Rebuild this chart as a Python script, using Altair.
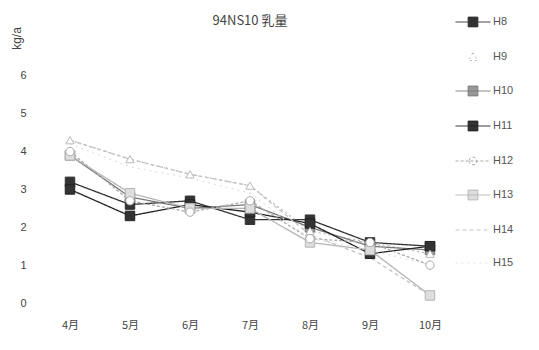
import altair as alt
import pandas as pd

months = ["4月", "5月", "6月", "7月", "8月", "9月", "10月"]
series = ["H8", "H9", "H10", "H11", "H12", "H13", "H14", "H15"]
H8 = [3.2, 2.6, 2.7, 2.2, 2.2, 1.6, 1.5]
H9 = [4.3, 3.8, 3.4, 3.1, 1.9, 1.6, 1.3]
H10 = [3.9, 2.8, 2.5, 2.6, 2.0, 1.5, 1.4]
H11 = [3.0, 2.3, 2.6, 2.4, 2.1, 1.3, 1.5]
H12 = [4.0, 2.7, 2.4, 2.7, 1.7, 1.6, 1.0]
H13 = [3.9, 2.9, 2.5, 2.5, 1.6, 1.4, 0.2]
H14 = [4.3, 3.8, 3.4, 3.1, 1.8, 1.2, 0.2]
H15 = [4.2, 3.6, 3.3, 2.9, 1.7, 1.4, 1.0]
values = [H8, H9, H10, H11, H12, H13, H14, H15]

rows = []
for s, vals in zip(series, values):
    for m, v in zip(months, vals):
        rows.append({"series": s, "month": m, "value": v})
df = pd.DataFrame(rows)
legend_df = pd.DataFrame({"series": series})

stroke_colors = ["#333333", "#bbbbbb", "#777777", "#222222", "#aaaaaa", "#b5b5b5", "#c4c4c4", "#e2e2e2"]
fill_colors = ["#333333", "#ffffff", "#999999", "#333333", "#ffffff", "#dddddd", "#ffffff", "#ffffff"]
dashes = [[1, 0], [2, 3], [1, 0], [1, 0], [3, 2], [1, 0], [4, 3], [2, 4]]

stroke_scale = alt.Scale(domain=series, range=stroke_colors)
fill_scale = alt.Scale(domain=series, range=fill_colors)
dash_scale = alt.Scale(domain=series, range=dashes)

sq = "M-0.28,-0.28H0.28V0.28H-0.28Z"
ln = "M-1,0H1"
tri = "M0,-0.26L0.26,0.2H-0.26Z"
circ = "M-0.22,0A0.22,0.22 0 1,0 0.22,0A0.22,0.22 0 1,0 -0.22,0"
legend_shapes = [ln + sq, tri, ln + sq, ln + sq, ln + circ, ln + sq, ln, ln]

leg = alt.Legend(title=None, orient="none", legendX=415, legendY=-34, symbolSize=1225,
                 symbolStrokeWidth=1, labelFontSize=11, labelColor="#555555", rowPadding=10,
                 labelOffset=2, symbolOpacity=1)

x = alt.X("month:O", sort=months, title=None,
          axis=alt.Axis(labelAngle=0, domain=False, ticks=False, labelPadding=16,
                        labelFontSize=11, labelColor="#444444", labelFont="Noto Sans CJK JP"))
y = alt.Y("value:Q", scale=alt.Scale(domain=[0, 7]), title="kg/a",
          axis=alt.Axis(values=[0, 1, 2, 3, 4, 5, 6], grid=False, domain=False, ticks=False,
                        labelPadding=14, labelFontSize=11, labelColor="#444444",
                        titleAngle=-90, titleX=-24, titleY=0, titleAlign="center",
                        titleBaseline="middle", titleFontSize=12, titleFontWeight="normal",
                        titleColor="#444444"))

lines = alt.Chart(df).mark_line(strokeWidth=1.3).encode(
    x=x, y=y,
    stroke=alt.Stroke("series:N", scale=stroke_scale, legend=leg, sort=series),
    strokeDash=alt.StrokeDash("series:N", scale=dash_scale, legend=leg, sort=series),
    detail="series:N",
)


def marker_layer(names, shape, size):
    return alt.Chart(df).transform_filter(
        alt.FieldOneOfPredicate(field="series", oneOf=names)
    ).mark_point(shape=shape, size=size, strokeWidth=1, opacity=1).encode(
        x=x, y=y,
        stroke=alt.Stroke("series:N", scale=stroke_scale, legend=leg, sort=series),
        fill=alt.Fill("series:N", scale=fill_scale, legend=leg, sort=series),
    )


squares = marker_layer(["H8", "H10", "H11", "H13"], "square", 90)
triangles = marker_layer(["H9"], "triangle-up", 70)
circles = marker_layer(["H12"], "circle", 70)

legend_layer = alt.Chart(legend_df).mark_point(opacity=0, strokeWidth=1, size=1).encode(
    x=alt.value(200), y=alt.value(100),
    shape=alt.Shape("series:N", scale=alt.Scale(domain=series, range=legend_shapes), legend=leg, sort=series),
    stroke=alt.Stroke("series:N", scale=stroke_scale, legend=leg, sort=series),
    fill=alt.Fill("series:N", scale=fill_scale, legend=leg, sort=series),
)

chart = alt.layer(lines, squares, triangles, circles, legend_layer).properties(
    width=420, height=265,
    title=alt.TitleParams("94NS10 乳量", fontSize=13, fontWeight="normal", color="#444444",
                          font="Noto Sans CJK JP", offset=8, dy=45, baseline="bottom"),
    autosize=alt.AutoSizeParams(type="none"),
    padding={"left": 32, "top": 30, "right": 70, "bottom": 40},
).configure_view(stroke=None)

chart.save("out.html", embed_options={"renderer": "svg", "actions": False})
